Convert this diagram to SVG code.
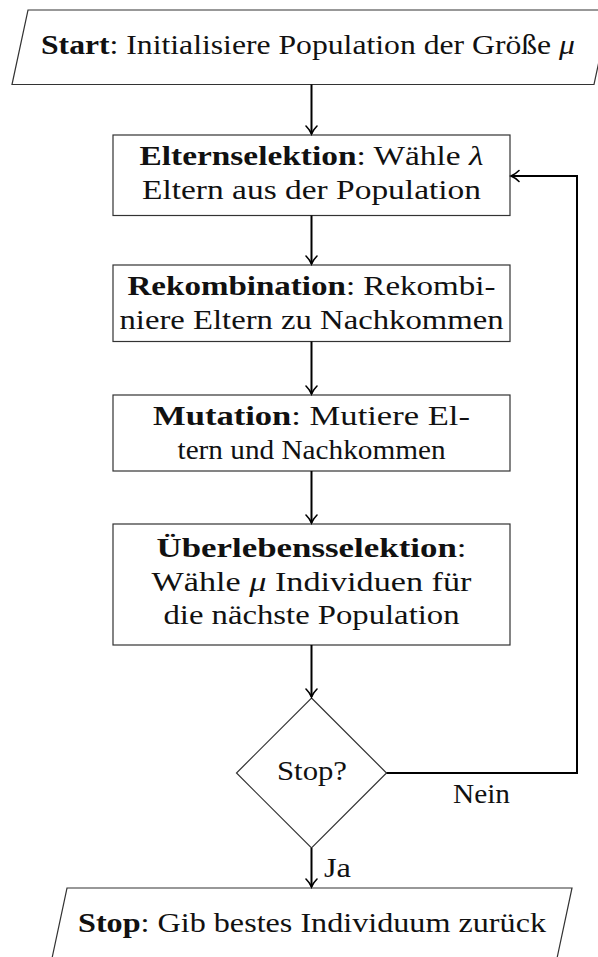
<svg xmlns="http://www.w3.org/2000/svg" width="598" height="957" viewBox="0 0 598 957">
  <style>
    .shape { fill: #fff; stroke: #333; stroke-width: 1.2; }
    .txt { font-family: "Liberation Serif", "Times New Roman", serif; font-size: 28px; fill: #111; text-anchor: middle; }
    .b { font-weight: bold; }
    .m { font-style: italic; }
    .edge { fill: none; stroke: #000; stroke-width: 2; }
  </style>
  <defs>
    <marker id="head" markerUnits="userSpaceOnUse" viewBox="-10 -7 12 14" refX="0" refY="0" markerWidth="12" markerHeight="14" orient="auto">
      <path d="M-8,-5.5 C-5,-2.5 -2,-0.8 0,0 C-2,0.8 -5,2.5 -8,5.5" fill="none" stroke="#000" stroke-width="1.6" stroke-linecap="round"/>
    </marker>
  </defs>

  <rect width="598" height="957" fill="#fff"/>

  <!-- start (input/output parallelogram) -->
  <g id="start">
    <polygon class="shape" points="28,10 610,10 594,84.5 12,84.5"/>
    <text class="txt" x="308" y="54" textLength="534" lengthAdjust="spacingAndGlyphs"><tspan class="b">Start</tspan>: Initialisiere Population der Größe <tspan class="m">μ</tspan></text>
  </g>

  <!-- parent selection -->
  <g id="elternselektion">
    <rect class="shape" x="113" y="135" width="397" height="80.5"/>
    <text class="txt" x="311.5" y="165" textLength="344" lengthAdjust="spacingAndGlyphs"><tspan class="b">Elternselektion</tspan>: Wähle <tspan class="m">λ</tspan></text>
    <text class="txt" x="311.5" y="198.5" textLength="339" lengthAdjust="spacingAndGlyphs">Eltern aus der Population</text>
  </g>

  <!-- recombination -->
  <g id="rekombination">
    <rect class="shape" x="113" y="265" width="397" height="76.5"/>
    <text class="txt" x="311.5" y="295" textLength="368" lengthAdjust="spacingAndGlyphs"><tspan class="b">Rekombination</tspan>: Rekombi-</text>
    <text class="txt" x="311.5" y="328.5" textLength="384" lengthAdjust="spacingAndGlyphs">niere Eltern zu Nachkommen</text>
  </g>

  <!-- mutation -->
  <g id="mutation">
    <rect class="shape" x="113" y="395" width="397" height="76"/>
    <text class="txt" x="311.5" y="425" textLength="317" lengthAdjust="spacingAndGlyphs"><tspan class="b">Mutation</tspan>: Mutiere El-</text>
    <text class="txt" x="311.5" y="458.5" textLength="268" lengthAdjust="spacingAndGlyphs">tern und Nachkommen</text>
  </g>

  <!-- survivor selection -->
  <g id="ueberlebensselektion">
    <rect class="shape" x="113" y="524" width="397" height="121"/>
    <text class="txt" x="311.5" y="557" textLength="310" lengthAdjust="spacingAndGlyphs"><tspan class="b">Überlebensselektion</tspan>:</text>
    <text class="txt" x="311.5" y="590.5" textLength="320" lengthAdjust="spacingAndGlyphs">Wähle <tspan class="m">μ</tspan> Individuen für</text>
    <text class="txt" x="311.5" y="624" textLength="296" lengthAdjust="spacingAndGlyphs">die nächste Population</text>
  </g>

  <!-- termination test -->
  <g id="stop-test">
    <polygon class="shape" points="311.5,698 386.5,773 311.5,848 236.5,773"/>
    <text class="txt" x="312" y="780" textLength="70" lengthAdjust="spacingAndGlyphs">Stop?</text>
  </g>

  <!-- stop (output parallelogram) -->
  <g id="stop">
    <polygon class="shape" points="67,888 572,888 556,963 51,963"/>
    <text class="txt" x="312" y="932" textLength="468" lengthAdjust="spacingAndGlyphs"><tspan class="b">Stop</tspan>: Gib bestes Individuum zurück</text>
  </g>

  <!-- connectors -->
  <g id="connectors">
    <path class="edge" d="M311.5,84.5 V134" marker-end="url(#head)"/>
    <path class="edge" d="M311.5,215.5 V264" marker-end="url(#head)"/>
    <path class="edge" d="M311.5,341.5 V394" marker-end="url(#head)"/>
    <path class="edge" d="M311.5,471 V523" marker-end="url(#head)"/>
    <path class="edge" d="M311.5,645 V697" marker-end="url(#head)"/>
    <path class="edge" d="M311.5,848 V887" marker-end="url(#head)"/>
    <path class="edge" d="M386.5,773 H577 V176 H511" marker-end="url(#head)"/>
    <text class="txt" x="481.5" y="803" textLength="57" lengthAdjust="spacingAndGlyphs">Nein</text>
    <text class="txt" x="337.5" y="877" textLength="27" lengthAdjust="spacingAndGlyphs">Ja</text>
  </g>
</svg>
